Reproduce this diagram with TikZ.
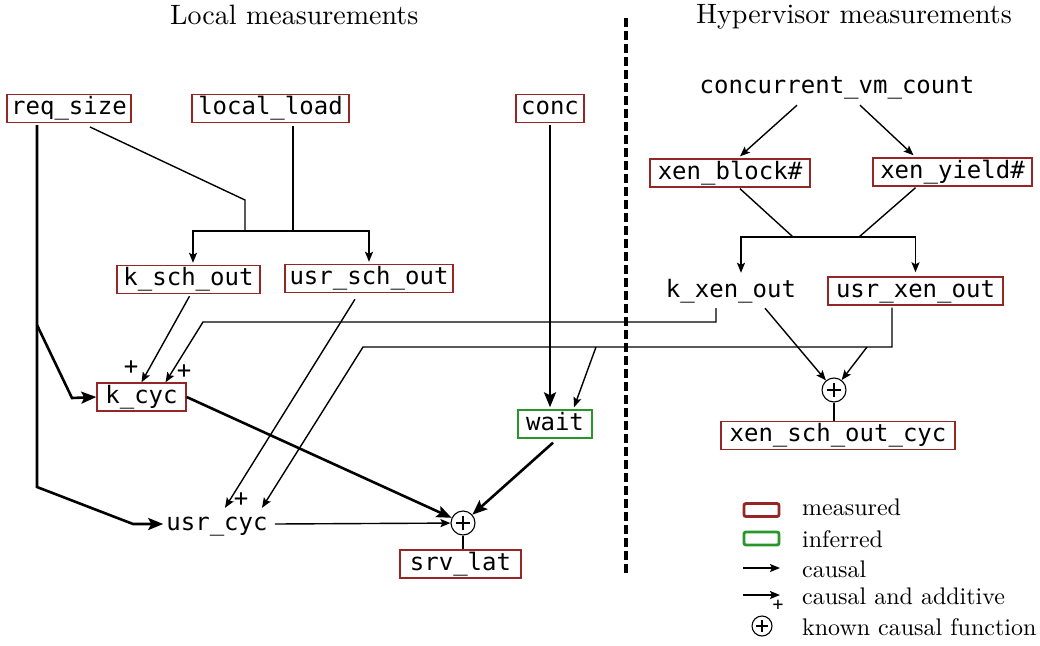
\documentclass[tikz,border=0pt]{standalone}
\usepackage{fontspec}
\setmainfont{lmroman10-regular}[Extension=.otf]
\newfontfamily\mono{DejaVu Sans Mono}
\usetikzlibrary{arrows.meta}
\definecolor{mred}{RGB}{150,38,38}
\definecolor{mgreen}{RGB}{40,150,40}
\tikzset{
  monof/.style={font=\mono\fontsize{24}{28}\selectfont},
  meas/.style={monof, draw=mred, line width=1.4pt, inner xsep=3pt, inner ysep=3pt, text height=17pt, text depth=5pt},
  infer/.style={meas, draw=mgreen},
  plainv/.style={monof, inner xsep=3pt, inner ysep=3pt, text height=17pt, text depth=5pt},
  ln/.style={line width=1.4pt},
  tln/.style={line width=2.6pt},
  arr/.style={ln, -{Stealth[length=10pt,width=8pt,inset=2pt]}},
  tarr/.style={tln, -{Stealth[length=15pt,width=12pt,inset=3pt]}},
  plusl/.style={font=\mono\fontsize{24}{28}\selectfont, inner sep=0pt},
  oplus/.style={circle, draw, line width=1.1pt, minimum size=#1, inner sep=0pt,
    path picture={\draw[line width=1.2pt] ([xshift=-0.3*#1]path picture bounding box.center) -- ([xshift=0.3*#1]path picture bounding box.center)
      ([yshift=-0.3*#1]path picture bounding box.center) -- ([yshift=0.3*#1]path picture bounding box.center);}},
  title/.style={font=\fontsize{28}{32}\selectfont, inner sep=0pt, anchor=base west},
  legt/.style={font=\fontsize{24}{28}\selectfont, inner sep=0pt, anchor=base west},
  legbox/.style={rounded corners=2pt, line width=2.8pt, minimum width=35pt, minimum height=13pt, inner sep=0pt},
}
\begin{document}
\begin{tikzpicture}[x=1pt,y=-1pt]
\useasboundingbox (0,0) rectangle (1040,645);

% titles
\node[title] (tl) at (170,24) {Local measurements};
\node[title] (th) at (696,23) {Hypervisor measurements};
\draw[line width=3.2pt, dash pattern=on 9pt off 4pt] (626,18) -- (626,575);

% local nodes
\node[meas, minimum width=124pt] (req) at (69,108.5) {req\_size};
\node[meas, minimum width=157pt] (llo) at (270.5,108.5) {local\_load};
\node[meas, minimum width=68pt] (conc) at (550,108.5) {conc};
\node[meas, minimum width=143pt] (ksch) at (188.5,279.5) {k\_sch\_out};
\node[meas, minimum width=168pt] (usch) at (369,278.5) {usr\_sch\_out};
\node[meas, minimum width=89pt] (kcyc) at (141.5,397) {k\_cyc};
\node[infer, minimum width=74pt] (wait) at (555,424) {wait};
\node[plainv] (ucyc) at (217,524) {usr\_cyc};
\node[oplus=24pt] (opl) at (463,523) {};
\node[meas, minimum width=121pt] (srvl) at (460.5,564) {srv\_lat};

% hypervisor nodes
\node[plainv] (cvc) at (837,87) {concurrent\_vm\_count};
\node[meas, minimum width=160pt] (xblk) at (730,173) {xen\_block\#};
\node[meas, minimum width=159pt] (xyld) at (952.5,172) {xen\_yield\#};
\node[plainv] (kxen) at (731,291) {k\_xen\_out};
\node[meas, minimum width=175pt] (uxen) at (915.5,291) {usr\_xen\_out};
\node[oplus=24pt] (oph) at (834,390) {};
\node[meas, minimum width=234pt] (xsoc) at (838,435.5) {xen\_sch\_out\_cyc};

% coordinates
\coordinate (r0) at (37,125);
\coordinate (r1) at (37,325);
\coordinate (r2) at (72,398);
\coordinate (r3) at (37,487);
\coordinate (r4) at (133,524);
\coordinate (rs) at (90,127);
\coordinate (j1) at (245,200);
\coordinate (j2) at (245,231);
\coordinate (j3) at (293,231);
\coordinate (kx1) at (716,322);
\coordinate (kx2) at (203,322);
\coordinate (ux1) at (892,347);
\coordinate (ux2) at (363,347);
\coordinate (uw) at (596,347);
\coordinate (uh) at (867,347);
\coordinate (xj1) at (793,237);
\coordinate (xj2) at (859,237);

% local connectors
\draw[tarr] (r0) -- (r3) -- (r4) -- (ucyc.west);
\draw[tarr] (r1) -- (r2) -- (kcyc.west);
\draw[ln] (rs) -- (j1) -- (j2);
\draw[ln] ([yshift=-3pt]llo.south -| j3) -- (j3);
\draw[arr] (j2) -| ([xshift=4.5pt,yshift=2pt]ksch.north);
\draw[arr] (j2) -| ([yshift=2pt]usch.north);
\draw[arr] ([xshift=1pt,yshift=-2pt]ksch.south) -- (kcyc.north);
\draw[arr] ([yshift=-3pt]kxen.south -| kx1) -- (kx1) -- (kx2) -- ([xshift=24pt]kcyc.north);
\draw[arr] ([xshift=-14pt,yshift=-6pt]usch.south) -- ([xshift=8pt,yshift=2pt]ucyc.north);
\draw[arr] ([yshift=-2pt]uxen.south -| ux1) -- (ux1) -- (ux2) -- ([xshift=45pt,yshift=2pt]ucyc.north);
\draw[arr] (uw) -- ([xshift=19pt,yshift=2pt]wait.north);
\draw[tarr] ([yshift=-2pt]conc.south) -- ([yshift=2pt]conc.south |- wait.north);
\draw[tarr] (kcyc.east) -- (opl);
\draw[tarr] ([xshift=-2pt,yshift=-4pt]wait.south) -- (opl);
\draw[arr] ([xshift=4pt]ucyc.east) -- (opl);
\draw[ln] (opl.south) -- (opl.south |- srvl.north);
\node[plusl] (p1) at (131,368) {+};
\node[plusl] (p2) at (184,372) {+};
\node[plusl] (p3) at (241,500) {+};

% hypervisor connectors
\draw[arr] ([xshift=-40pt,yshift=-4pt]cvc.south) -- ([xshift=10pt,yshift=2pt]xblk.north);
\draw[arr] ([xshift=23pt,yshift=-4pt]cvc.south) -- ([xshift=-39pt,yshift=2pt]xyld.north);
\draw[ln] ([xshift=10pt,yshift=-1pt]xblk.south) -- (xj1);
\draw[ln] ([xshift=-37pt,yshift=-1pt]xyld.south) -- (xj2);
\draw[arr] (xj1) -| ([xshift=10pt,yshift=4pt]kxen.north);
\draw[arr] (xj1) -| ([yshift=4pt]uxen.north);
\draw[arr] ([xshift=34pt,yshift=-3pt]kxen.south) -- (oph);
\draw[arr] (uh) -- (oph);
\draw[ln] (oph.south) -- (oph.south |- xsoc.north);

% legend
\node[legbox, draw=mred] (lm) at (761.5,510) {};
\node[legbox, draw=mgreen] (li) at (761.5,538.5) {};
\coordinate (la1) at (743,568);
\coordinate (la2) at (780,568);
\draw[arr] (la1) -- (la2);
\coordinate (lb1) at (743,595);
\coordinate (lb2) at (780,595);
\draw[arr] (lb1) -- (lb2);
\node[font=\mono\fontsize{18}{20}\selectfont, inner sep=0pt] (lp) at (778,605) {+};
\node[oplus=20pt] (lo) at (762,626) {};
\node[legt] (t1) at (802,515) {measured};
\node[legt] (t2) at (802,547) {inferred};
\node[legt] (t3) at (802,577) {causal};
\node[legt] (t4) at (802,604) {causal and additive};
\node[legt] (t5) at (802,635) {known causal function};
\end{tikzpicture}
\end{document}
